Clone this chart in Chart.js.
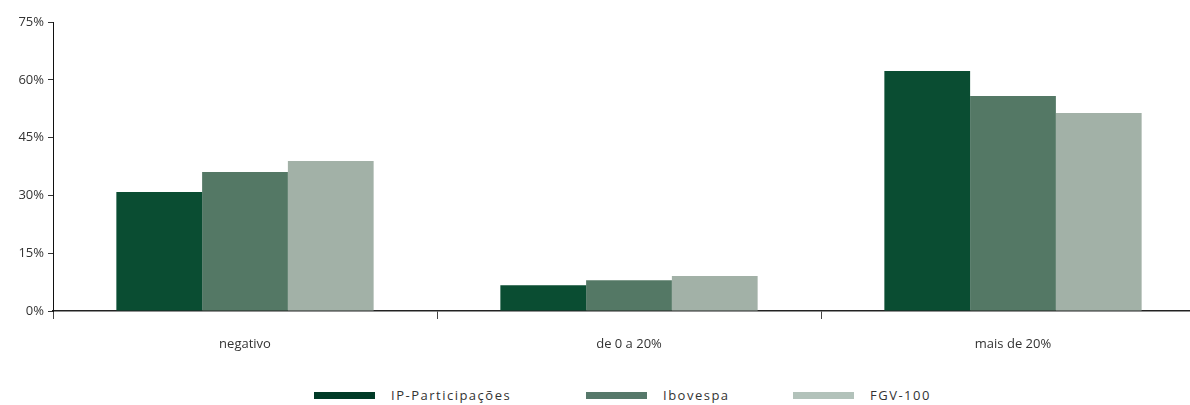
<!DOCTYPE html>
<html>
<head>
<meta charset="utf-8">
<script src="https://cdn.jsdelivr.net/npm/chart.js@4"></script>
<style>
    body { margin: 0; background: #fff; overflow: hidden; font-family: "Open Sans", sans-serif; }
    #wrap { position: relative; width: 1205px; height: 405px; }
    #legend { position: absolute; left: 0; top: 386px; width: 1190px; height: 20px; font-size: 13px; color: #333; letter-spacing: 1.5px; }
    .item { position: absolute; top: 0; display: flex; align-items: center; }
    .box { width: 61px; height: 7px; margin-right: 16px; }
</style>
</head>
<body>
<div id="wrap">
    <canvas id="chart" width="1205" height="371"></canvas>
    <div id="legend"></div>
</div>
<script>
// Return distribution buckets
const categories = ['negativo', 'de 0 a 20%', 'mais de 20%'];
const seriesNames = ['IP-Participações', 'Ibovespa', 'FGV-100'];
const ipValues = [30.9, 6.7, 62.3];
const ibovValues = [36.1, 8.0, 55.8];
const fgvValues = [38.9, 9.1, 51.4];
const yTicks = [0, 15, 30, 45, 60, 75];

const barColors = ['#0a4d32', '#547865', '#a2b1a7'];
const legendColors = ['#003a26', '#56786a', '#b2c2ba'];
const legendLeft = [314, 586, 793];

const tickFont = { family: 'Open Sans', size: 13 };

const ctx = document.getElementById('chart').getContext('2d');
const myChart = new Chart(ctx, {
    type: 'bar',
    data: {
        labels: categories,
        datasets: [ipValues, ibovValues, fgvValues].map((vals, i) => ({
            label: seriesNames[i],
            data: vals,
            backgroundColor: barColors[i],
            borderWidth: 0,
            categoryPercentage: 0.67,
            barPercentage: 1
        }))
    },
    options: {
        responsive: false,
        animation: false,
        layout: { padding: { top: 22, right: 0, bottom: 0, left: 0 } },
        plugins: { legend: { display: false }, tooltip: { enabled: false } },
        scales: {
            x: {
                afterFit: s => { s.height = 60; },
                grid: { offset: true, drawOnChartArea: false, drawTicks: true, tickLength: 8, color: '#444', lineWidth: 1 },
                border: { display: true, color: '#222', width: 1.5 },
                ticks: { padding: 17, color: '#333', font: tickFont }
            },
            y: {
                min: 0,
                max: 75,
                afterFit: s => { s.width = 53; },
                afterBuildTicks: s => { s.ticks = yTicks.map(v => ({ value: v })); },
                grid: { drawOnChartArea: false, drawTicks: true, tickLength: 5, color: '#333' },
                border: { display: true, color: '#111', width: 1 },
                ticks: { padding: 4, color: '#333', font: tickFont, callback: v => v + '%' }
            }
        }
    }
});

// HTML legend below the plot
const legend = document.getElementById('legend');
seriesNames.forEach((name, i) => {
    const item = document.createElement('div');
    item.className = 'item';
    item.style.left = legendLeft[i] + 'px';
    item.innerHTML = `<span class="box" style="background:${legendColors[i]}"></span><span>${name}</span>`;
    legend.appendChild(item);
});
</script>
</body>
</html>
